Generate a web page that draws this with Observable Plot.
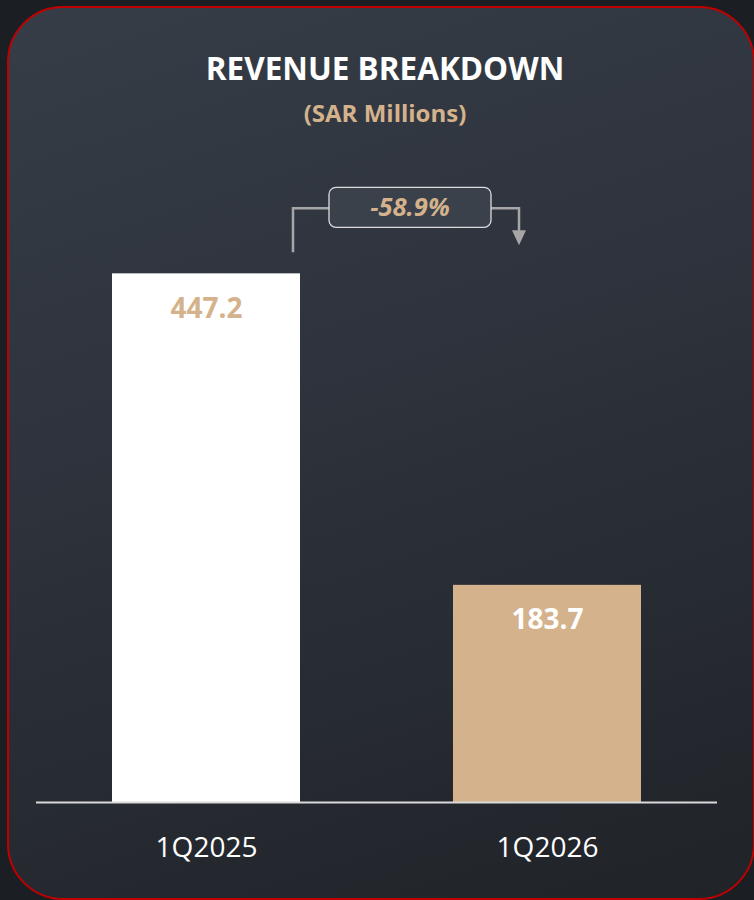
<!DOCTYPE html>
<html>
<head>
<meta charset="utf-8">
<script src="https://cdn.jsdelivr.net/npm/d3@7"></script>
<script src="https://cdn.jsdelivr.net/npm/@observablehq/plot@0.6"></script>
<style>
  html, body { margin: 0; padding: 0; }
  body {
    width: 754px; height: 900px; position: relative; overflow: hidden;
    background: #1b1e22;
    font-family: "Open Sans", "Noto Sans", sans-serif;
  }
  #card {
    position: absolute; left: 7px; top: 6px; width: 748px; height: 894px;
    box-sizing: border-box; border: 2px solid #c00000; border-radius: 56px;
    background: linear-gradient(162deg, #363d47 0%, #2d323b 45%, #202328 100%);
  }
  #header { position: relative; height: 140px; width: 754px; }
  #title {
    position: absolute; top: 52px; left: 0; width: 770px; text-align: center;
    font-size: 31.5px; line-height: 31.5px; font-weight: 700; color: #ffffff;
  }
  #subtitle {
    position: absolute; top: 101px; left: 0; width: 770px; text-align: center;
    font-size: 24px; line-height: 24px; font-weight: 700; color: #d4b28c;
  }
  #chart { position: relative; }
  #chart svg { display: block; }
</style>
</head>
<body>
<div id="card"></div>
<div id="header">
  <div id="title">REVENUE BREAKDOWN</div>
  <div id="subtitle">(SAR Millions)</div>
</div>
<div id="chart"></div>
<script>
const categories = ["1Q2025", "1Q2026"];
const revenue = [447.2, 183.7];
const barColors = ["#ffffff", "#d4b28c"];
const valueLabelColors = ["#d4b28c", "#ffffff"];
const changeLabel = "-58.9%";

const data = categories.map((c, i) => ({
  period: c, value: revenue[i], fill: barColors[i], labelFill: valueLabelColors[i]
}));

const plot = Plot.plot({
  width: 754,
  height: 760,
  marginTop: 0,
  marginBottom: 98,
  marginLeft: 36,
  marginRight: 37,
  style: { background: "transparent", overflow: "visible", fontFamily: "'Open Sans', 'Noto Sans', sans-serif" },
  x: { domain: categories, range: [9.55, 744.45], paddingInner: 0.448, paddingOuter: 0.3, axis: null },
  y: { domain: [0, 560], axis: null },
  color: { type: "identity" },
  marks: [
    Plot.barY(data, { x: "period", y: "value", fill: "fill" }),
    Plot.ruleY([0], { stroke: "#d9d9d9", strokeWidth: 2 }),
    Plot.text(data, { x: "period", y: "value", text: d => d.value.toFixed(1), dy: 35, fill: "labelFill", fontSize: 28, fontWeight: "bold" }),
    Plot.text(data, { x: "period", y: 0, text: "period", dy: 46, fill: "#ffffff", fontSize: 28 })
  ]
});
document.getElementById("chart").appendChild(plot);

// change annotation, positioned from the plot's own scales
const sx = plot.scale("x"), sy = plot.scale("y");
const xL = sx.apply(categories[0]) + sx.bandwidth;
const xR = sx.apply(categories[1]);
const yT = sy.apply(revenue[0]);
const svg = d3.select(plot);
const g = svg.append("g");
const gray = "#a6a6a6";
g.append("path")
  .attr("d", `M${xL - 7},${yT - 21}V${yT - 65}H${xL + 29}`)
  .attr("fill", "none").attr("stroke", gray).attr("stroke-width", 2.5);
g.append("path")
  .attr("d", `M${xR + 38},${yT - 65}H${xR + 66}V${yT - 42}`)
  .attr("fill", "none").attr("stroke", gray).attr("stroke-width", 2.5);
g.append("path")
  .attr("d", `M${xR + 59},${yT - 43}L${xR + 73},${yT - 43}L${xR + 66},${yT - 28}Z`)
  .attr("fill", gray);
g.append("rect")
  .attr("x", xL + 29).attr("y", yT - 86).attr("width", xR + 38 - (xL + 29)).attr("height", 40)
  .attr("rx", 7).attr("fill", "#3a414b").attr("stroke", "#dcdcdc").attr("stroke-width", 1.3);
g.append("text")
  .attr("x", (xL + 29 + xR + 38) / 2).attr("y", yT - 66)
  .attr("text-anchor", "middle").attr("dy", "0.35em")
  .attr("font-size", 25.5).attr("font-weight", "bold").attr("font-style", "italic")
  .attr("fill", "#d4b28c").text(changeLabel);
</script>
</body>
</html>
